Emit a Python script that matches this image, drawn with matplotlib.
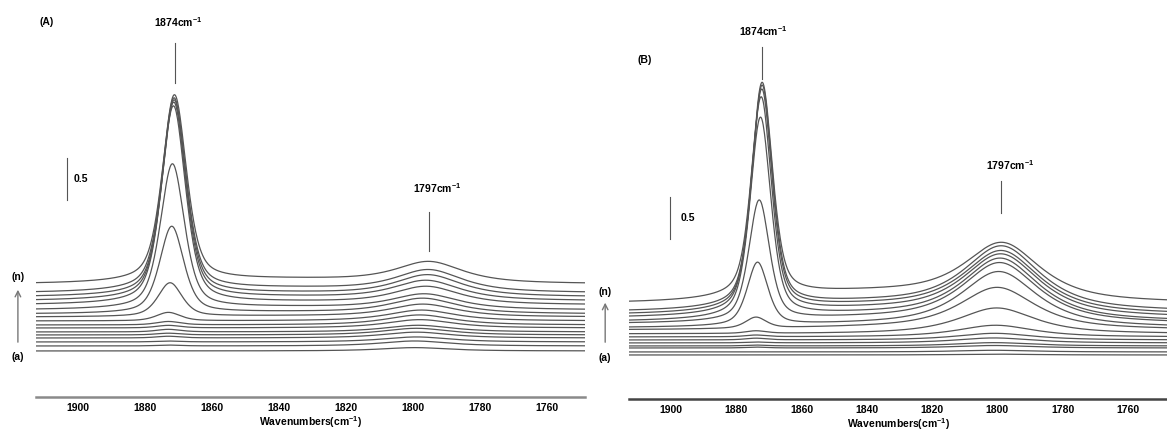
import numpy as np
import matplotlib
matplotlib.use("Agg")
import matplotlib.pyplot as plt

plt.rcParams['font.family'] = ['Liberation Sans', 'DejaVu Sans']
plt.rcParams['font.weight'] = 'bold'
plt.rcParams['mathtext.fontset'] = 'custom'
plt.rcParams['mathtext.rm'] = 'Liberation Sans:bold'
plt.rcParams['mathtext.default'] = 'rm'

# wavenumber ticks shown on both panels
ticks = [1900, 1880, 1860, 1840, 1820, 1800, 1780, 1760]

# panel A: spectra (a) .. (n), bottom to top (absorbance, stacked)
a_offset = [0.548, 0.607, 0.655, 0.702, 0.738, 0.774, 0.821, 0.857, 0.905,
            0.952, 0.988, 1.036, 1.095, 1.143, 1.190, 1.238, 1.345]
a_peak1 = [0.0, 0.01, 0.01, 0.02, 0.02, 0.03, 0.03, 0.04, 0.10,
           0.40, 1.03, 1.72, 2.35, 2.34, 2.32, 2.29, 2.22]
a_pos1 = [1873, 1873, 1873, 1873, 1873, 1873, 1873, 1873, 1873,
          1872.5, 1872, 1871.8, 1871.5, 1871.4, 1871.3, 1871.3, 1871.2]
a_peak2 = [0.04, 0.06, 0.06, 0.07, 0.08, 0.08, 0.10, 0.12, 0.13,
           0.15, 0.18, 0.18, 0.21, 0.23, 0.25, 0.26, 0.25]
a_pos2 = [1799.5, 1799.5, 1799, 1799, 1799, 1798.5, 1798, 1798, 1797.5,
          1797, 1797, 1796.5, 1796, 1796, 1795.5, 1795.3, 1795.2]
a_hump = [0, 0, 0, 0, 0, 0, 0, 0, 0, 0.01, 0.02, 0.03, 0.03, 0.04, 0.04, 0.05, 0.05]

# panel B
b_offset = [0.524, 0.560, 0.607, 0.631, 0.667, 0.702, 0.738, 0.774,
            0.821, 0.845, 0.893, 0.917, 0.964, 1.000, 1.036, 1.140]
b_peak1 = [0.0, 0.0, 0.01, 0.01, 0.01, 0.02, 0.02, 0.03,
           0.13, 0.75, 1.43, 2.38, 2.57, 2.62, 2.63, 2.55]
b_pos1 = [1874, 1874, 1874, 1874, 1874, 1874, 1874, 1874,
          1874, 1873.5, 1873, 1872.6, 1872.4, 1872.2, 1872.1, 1872.1]
b_peak2 = [0.01, 0.02, 0.03, 0.04, 0.06, 0.08, 0.14, 0.31,
           0.50, 0.66, 0.71, 0.73, 0.73, 0.73, 0.75, 0.68]
b_pos2 = [1801, 1801, 1801, 1801, 1801, 1800.8, 1800.5, 1800.2,
          1800, 1799.5, 1799.2, 1799, 1798.8, 1798.7, 1798.6, 1798.5]
b_hump = [0, 0, 0, 0, 0, 0, 0, 0, 0.02, 0.03, 0.05, 0.07, 0.08, 0.09, 0.09, 0.11]

wn = np.linspace(1914, 1746, 900)


def pvoigt(x, x0, fwhm, eta):
    hw = fwhm / 2.0
    lor = 1.0 / (1.0 + ((x - x0) / hw) ** 2)
    gau = np.exp(-np.log(2) * ((x - x0) / hw) ** 2)
    return eta * lor + (1 - eta) * gau


def draw_panel(ax, offset, peak1, pos1, peak2, pos2, hump, w1, w2):
    for i in range(len(offset)):
        y = offset[i] + peak1[i] * pvoigt(wn, pos1[i], w1, 0.5) + peak2[i] * pvoigt(wn, pos2[i], w2, 0.8)
        y = y + hump[i] * np.exp(-0.5 * ((wn - 1840) / 30.0) ** 2)
        ax.plot(wn, y, color='#555555', lw=0.9)


def style_axes(ax, xlim, ytop, spine_col, spine_lw):
    ax.set_xlim(*xlim)
    ax.set_ylim(0, ytop)
    for s in ['left', 'right', 'top']:
        ax.spines[s].set_visible(False)
    ax.spines['bottom'].set_color(spine_col)
    ax.spines['bottom'].set_linewidth(spine_lw)
    ax.set_yticks([])
    ax.set_xticks(ticks)
    ax.tick_params(axis='x', length=0, pad=4, labelsize=7.5)
    ax.set_xlabel('Wavenumbers(cm$^{-1}$)', fontsize=7.5, fontweight='bold', labelpad=1)


def mark(ax, x, y0, y1, label, ylab, xlab=None):
    ax.plot([x, x], [y0, y1], color='#555555', lw=0.8)
    ax.text(x if xlab is None else xlab, ylab, label, ha='center', va='center',
            fontsize=7.5, fontweight='bold')


fig = plt.figure(figsize=(11.67, 4.30), dpi=100)

# ---- panel A
axA = fig.add_axes([36 / 1167, 33 / 430, (585 - 36) / 1167, 397 / 430])
draw_panel(axA, a_offset, a_peak1, a_pos1, a_peak2, a_pos2, a_hump, 8.5, 24)
style_axes(axA, (1912.5, 1748.7), 397 / 84, '#8a8a8a', 1.8)
axA.text(1909.2, 4.46, '(A)', ha='center', va='center', fontsize=7.5)
mark(axA, 1871.0, 4.21, 3.74, '1874cm$^{-1}$', 4.46, 1870.1)
mark(axA, 1795.2, 2.20, 1.74, '1797cm$^{-1}$', 2.49, 1792.8)
axA.plot([1903.2, 1903.2], [2.345, 2.845], color='#555555', lw=0.8)
axA.text(1899.1, 2.595, '0.5', ha='center', va='center', fontsize=7.5)
axA.text(1917.9, 1.43, '(n)', ha='center', va='center', fontsize=7.5, clip_on=False)
axA.text(1917.9, 0.476, '(a)', ha='center', va='center', fontsize=7.5, clip_on=False)
axA.annotate('', xy=(1917.9, 1.31), xytext=(1917.9, 0.62), annotation_clip=False,
             arrowprops=dict(arrowstyle='->', color='#777777', lw=1.0))

# ---- panel B
axB = fig.add_axes([629 / 1167, 31 / 430, (1167 - 629) / 1167, 399 / 430])
draw_panel(axB, b_offset, b_peak1, b_pos1, b_peak2, b_pos2, b_hump, 7.5, 28)
style_axes(axB, (1912.9, 1748.0), 399 / 84, '#444444', 1.8)
axB.text(1908.0, 4.04, '(B)', ha='center', va='center', fontsize=7.5)
mark(axB, 1872.1, 4.19, 3.81, '1874cm$^{-1}$', 4.38, 1871.8)
mark(axB, 1798.9, 2.595, 2.214, '1797cm$^{-1}$', 2.786, 1796.2)
axB.plot([1900.3, 1900.3], [1.905, 2.405], color='#555555', lw=0.8)
axB.text(1894.8, 2.155, '0.5', ha='center', va='center', fontsize=7.5)
axB.text(1920.2, 1.274, '(n)', ha='center', va='center', fontsize=7.5, clip_on=False)
axB.text(1920.2, 0.488, '(a)', ha='center', va='center', fontsize=7.5, clip_on=False)
axB.annotate('', xy=(1920.2, 1.18), xytext=(1920.2, 0.643), annotation_clip=False,
             arrowprops=dict(arrowstyle='->', color='#777777', lw=1.0))

fig.savefig('out.png', dpi=100)
